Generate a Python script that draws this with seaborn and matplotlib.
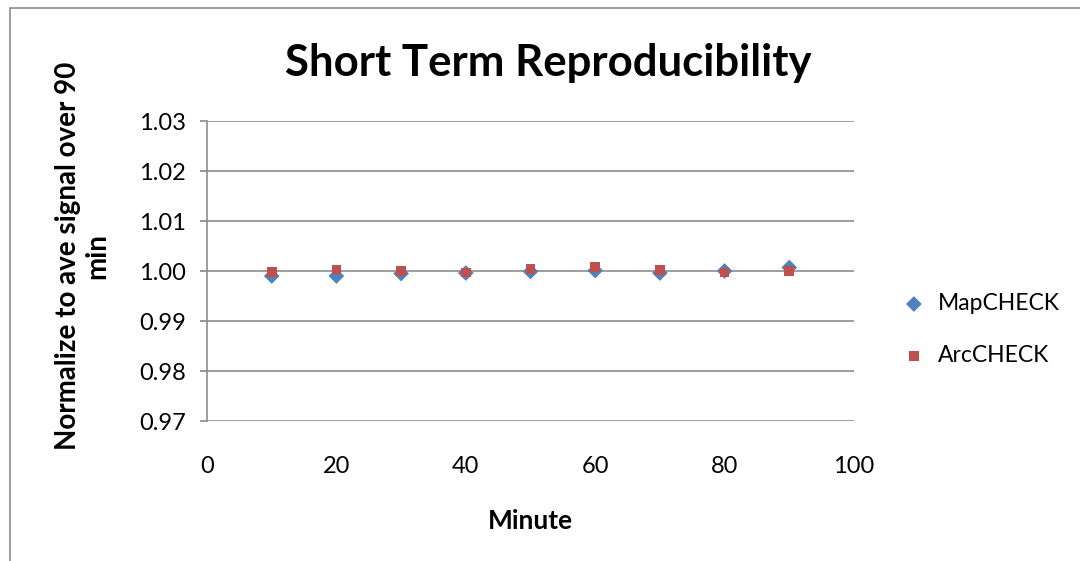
import matplotlib
matplotlib.use("Agg")
import matplotlib.pyplot as plt
import seaborn as sns
import pandas as pd
from matplotlib.patches import Rectangle

minutes = [10, 20, 30, 40, 50, 60, 70, 80, 90]
mapcheck = [0.9990, 0.9990, 0.9995, 0.9996, 0.9999, 1.0001, 0.9996, 1.0000, 1.0007]
arccheck = [0.9998, 1.0003, 1.0000, 0.9997, 1.0004, 1.0008, 1.0002, 0.9997, 1.0000]
series = ["MapCHECK", "ArcCHECK"]
yticks = [0.97, 0.98, 0.99, 1.00, 1.01, 1.02, 1.03]
xticks = [0, 20, 40, 60, 80, 100]

df = pd.DataFrame({
    "Minute": minutes * 2,
    "Value": mapcheck + arccheck,
    "Series": [series[0]] * len(minutes) + [series[1]] * len(minutes),
})

sns.set_theme(style="white")
plt.rcParams['font.family'] = ['Lato', 'DejaVu Sans']
plt.rcParams['text.color'] = 'black'
plt.rcParams['axes.labelcolor'] = 'black'
plt.rcParams['xtick.color'] = 'black'
plt.rcParams['ytick.color'] = 'black'

fig = plt.figure(figsize=(10.8, 5.61), dpi=100)
ax = fig.add_axes([207/1080, 1-421/561, (854-207)/1080, (421-121)/561])

fig.patches.append(Rectangle((10/1080, -0.2), 1.2, 1.2-8/561, transform=fig.transFigure,
                             fill=False, edgecolor="#8c8c8c", linewidth=1.2))

palette = {"MapCHECK": "#4F81BD", "ArcCHECK": "#C0504D"}
markers = {"MapCHECK": "D", "ArcCHECK": "s"}
sizes = {"MapCHECK": 64, "ArcCHECK": 48}
for s in series:
    sub = df[df["Series"] == s]
    sns.scatterplot(data=sub, x="Minute", y="Value", ax=ax, color=palette[s],
                    marker=markers[s], s=sizes[s], edgecolor="none", label=s, zorder=3)

ax.set_xlim(0, 100)
ax.set_ylim(0.97, 1.03)
ax.set_yticks(yticks)
ax.set_yticklabels([f"{v:.2f}" for v in yticks])
ax.set_xticks(xticks)
ax.set_xticklabels([str(v) for v in xticks])
ax.yaxis.grid(True, color="#8c8c8c", linewidth=1.2)
ax.xaxis.grid(False)
for side in ["top", "right", "bottom"]:
    ax.spines[side].set_visible(False)
ax.spines["left"].set_color("#8c8c8c")
ax.spines["left"].set_linewidth(1.2)
ax.tick_params(axis="y", left=True, length=5, color="#8c8c8c", labelcolor="black",
               labelsize=17, pad=10)
ax.tick_params(axis="x", bottom=False, labelcolor="black", labelsize=17, pad=19)

ax.set_xlabel("Minute", fontsize=19, fontweight="bold", labelpad=23)
ax.set_ylabel("Normalize to ave signal over 90\nmin", fontsize=20, fontweight="bold",
              linespacing=1.15)
ax.yaxis.set_label_coords(-0.15, 0.55)
fig.text(548/1080, 1-63/561, "Short Term Reproducibility", fontsize=31.5, fontweight="bold",
         ha="center", va="center")

leg = ax.legend(loc="center left", bbox_to_anchor=(1.043, 0.305), frameon=False, fontsize=16.5,
                handletextpad=0.55, labelspacing=1.35, handlelength=1.0)

fig.savefig("out.png", dpi=100)
